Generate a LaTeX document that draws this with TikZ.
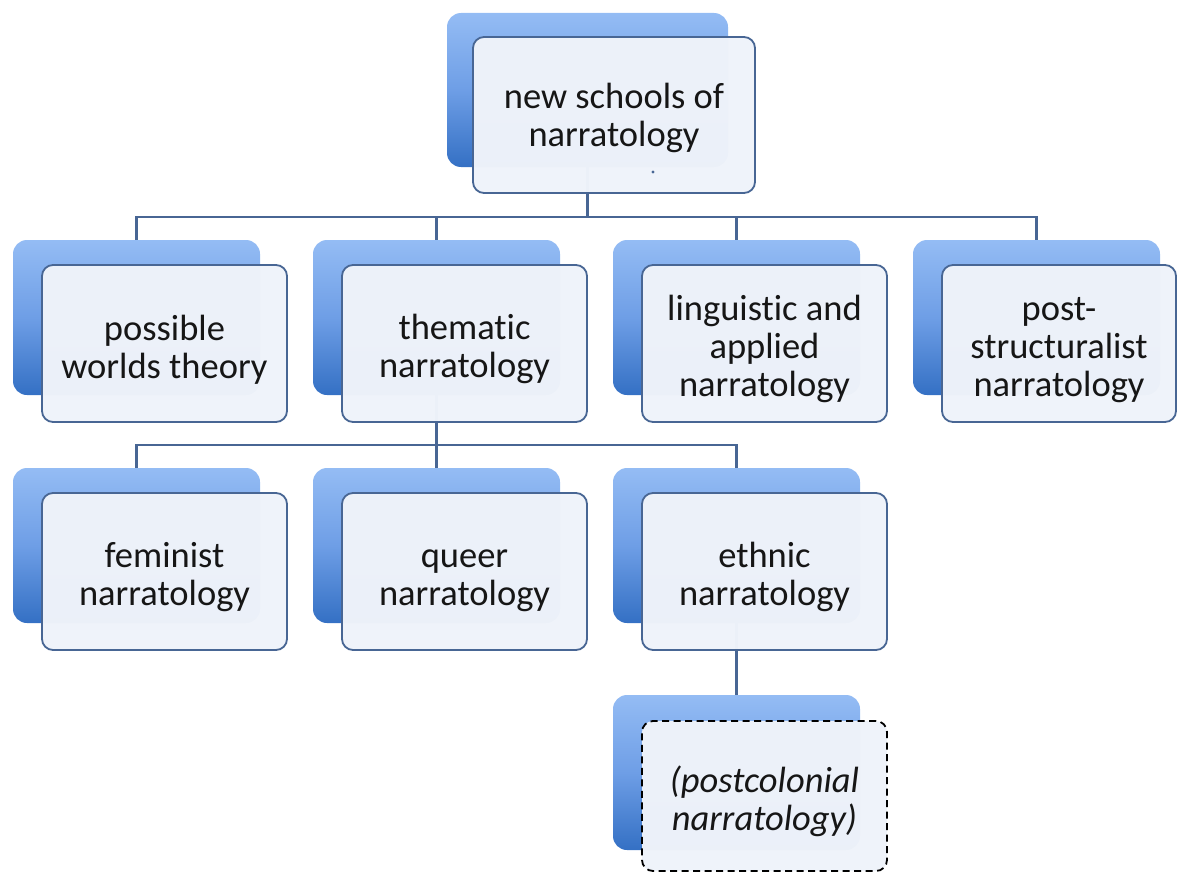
\documentclass[tikz,border=0pt]{standalone}
\usepackage{fontspec}
\setmainfont{Carlito}[Ligatures=NoCommon]
\usepackage{xcolor}
\usetikzlibrary{positioning}

\definecolor{edgeblue}{RGB}{72,102,148}
\definecolor{backtop}{RGB}{148,188,244}
\definecolor{backmid}{RGB}{110,158,230}
\definecolor{backbot}{RGB}{52,112,196}
\definecolor{frontfill}{RGB}{239,243,250}
\definecolor{textgray}{RGB}{22,22,22}

% lowers the text a little inside a box
\newcommand{\lift}{\rule{0pt}{37pt}}

\begin{document}
\begin{tikzpicture}[
    x=1pt, y=-1pt,
    back/.style={rectangle, rounded corners=14pt, minimum width=247pt, minimum height=155pt,
        top color=backtop, bottom color=backbot, middle color=backmid},
    front/.style={rectangle, rounded corners=11pt, draw=edgeblue, line width=1.8pt,
        fill=frontfill, fill opacity=0.98, text opacity=1, text=textgray,
        minimum width=245pt, minimum height=157pt, align=center,
        font=\fontsize{36.5}{38}\selectfont},
    guess/.style={draw=black, dash pattern=on 7pt off 4.5pt, font=\fontsize{36.5}{38}\selectfont\itshape},
    off/.style={shift={(28,26)}},
    link/.style={draw=edgeblue, line width=2.2pt}
]
    \useasboundingbox (0,0) rectangle (1178,875);

    % Back boxes
    \node[back, minimum width=281pt, minimum height=154pt] (schools-b) at (587.5,90) {};
    \node[back] (worlds-b) at (136.5,317.5) {};
    \node[back] (thematic-b) at (436.5,317.5) {};
    \node[back] (linguistic-b) at (736.5,317.5) {};
    \node[back] (poststruct-b) at (1036.5,317.5) {};
    \node[back] (feminist-b) at (136.5,545.5) {};
    \node[back] (queer-b) at (436.5,545.5) {};
    \node[back] (ethnic-b) at (736.5,545.5) {};
    \node[back] (postcol-b) at (736.5,772.5) {};

    % Lines
    \draw[link] (schools-b.south) -- ++(0,50) -| (worlds-b.north);
    \draw[link] (schools-b.south) -- ++(0,50) -| (thematic-b.north);
    \draw[link] (schools-b.south) -- ++(0,50) -| (linguistic-b.north);
    \draw[link] (schools-b.south) -- ++(0,50) -| (poststruct-b.north);

    \draw[link] (thematic-b.south) -- ++(0,50) -| (feminist-b.north);
    \draw[link] (thematic-b.south) -- ++(0,50) -| (queer-b.north);
    \draw[link] (thematic-b.south) -- ++(0,50) -| (ethnic-b.north);

    \draw[link] (ethnic-b.south) -- (postcol-b.north);

    % Front boxes
    \node[front, minimum width=282pt, minimum height=156pt] (schools) at ([shift={(26.5,25)}]schools-b) {\rule{0pt}{32pt}new schools of\\narratology};
    \fill[edgeblue] (653,172) circle (1.6);

    \node[front] (worlds) at ([off]worlds-b) {\lift possible\\worlds theory};
    \node[front] (thematic) at ([off]thematic-b) {\lift thematic\\narratology};
    \node[front] (linguistic) at ([off]linguistic-b) {\lift linguistic and\\applied\\narratology};
    \node[front, minimum width=234pt] (poststruct) at ([shift={(22.5,26)}]poststruct-b) {\lift post-\\structuralist\\narratology};

    \node[front] (feminist) at ([off]feminist-b) {\lift feminist\\narratology};
    \node[front] (queer) at ([off]queer-b) {\lift queer\\narratology};
    \node[front] (ethnic) at ([off]ethnic-b) {\lift ethnic\\narratology};

    \node[front, guess, minimum height=150pt] (postcol) at ([shift={(28,23.5)}]postcol-b) {\lift(postcolonial\\narratology)};
\end{tikzpicture}
\end{document}
